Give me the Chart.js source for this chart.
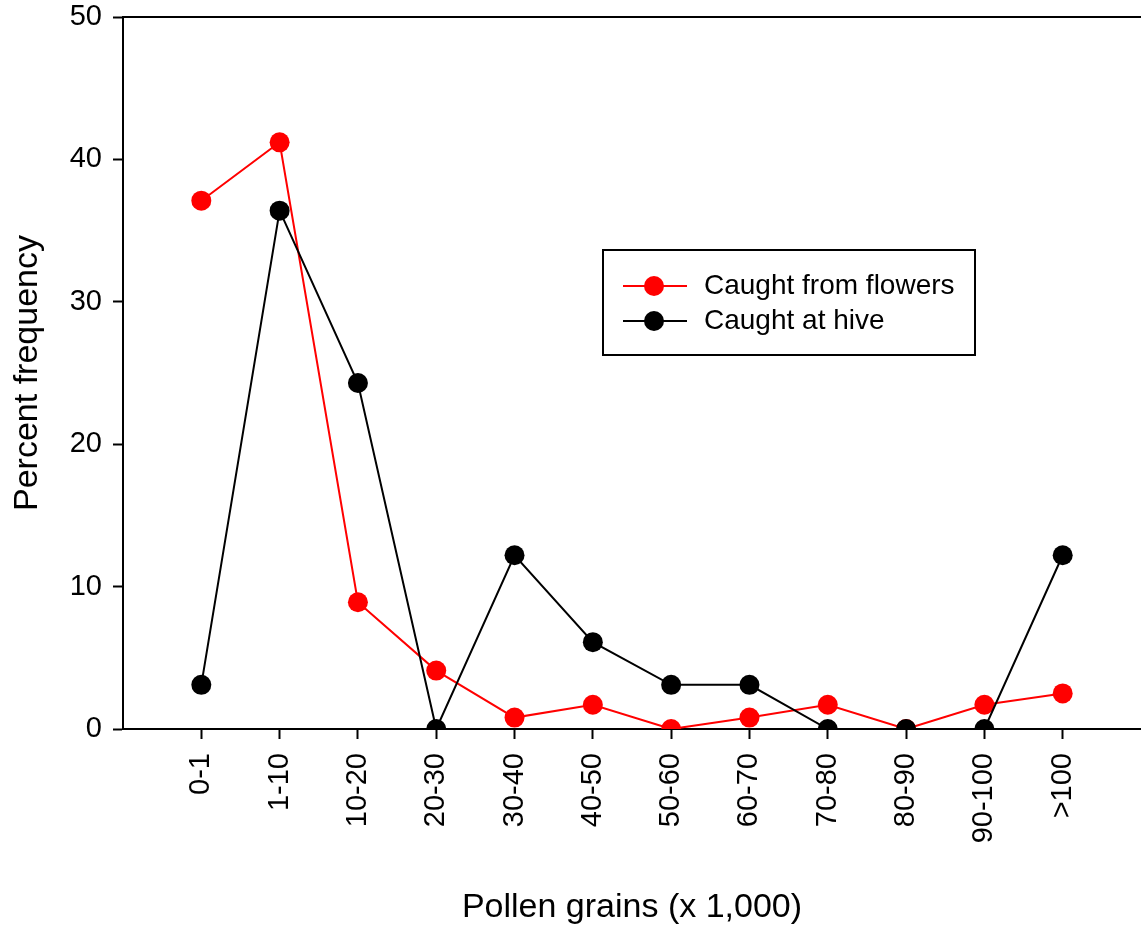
<!DOCTYPE html>
<html lang="en">
  <head>
    <meta charset="UTF-8" />
    <title>Pollen grains percent frequency</title>
    <script src="https://cdn.jsdelivr.net/npm/chart.js"></script>
    <style>
      html, body { margin: 0; padding: 0; background: #fff; overflow: hidden; }
    </style>
  </head>
  <body>
    <canvas id="myChart" width="1141" height="930"></canvas>
    <script>
      // categories and series values
      var categories = ["0-1", "1-10", "10-20", "20-30", "30-40", "40-50", "50-60", "60-70", "70-80", "80-90", "90-100", ">100"]
      var flowers = [37.1, 41.2, 8.9, 4.1, 0.8, 1.7, 0, 0.8, 1.7, 0, 1.7, 2.5]
      var hive = [3.1, 36.4, 24.3, 0, 12.2, 6.1, 3.1, 3.1, 0, 0, 0, 12.2]
      var yTicks = [0, 10, 20, 30, 40, 50]

      var FONT = "'Liberation Sans', Arial, sans-serif"

      function toPoints(arr) {
        return arr.map(function (v, i) { return { x: i + 1, y: v } })
      }

      // frame top line + legend box
      var extras = {
        id: "extras",
        afterDraw: function (chart) {
          var ctx = chart.ctx
          var a = chart.chartArea
          ctx.save()
          ctx.strokeStyle = "#000"
          ctx.lineWidth = 2
          ctx.beginPath()
          ctx.moveTo(a.left, a.top)
          ctx.lineTo(a.right, a.top)
          ctx.stroke()

          // legend
          ctx.lineWidth = 2
          ctx.strokeRect(603, 250, 372, 105)
          var items = [
            { label: "Caught from flowers", color: "#ff0000", y: 286 },
            { label: "Caught at hive", color: "#000000", y: 321 },
          ]
          items.forEach(function (it) {
            ctx.strokeStyle = it.color
            ctx.lineWidth = 2
            ctx.beginPath()
            ctx.moveTo(623, it.y)
            ctx.lineTo(687, it.y)
            ctx.stroke()
            ctx.fillStyle = it.color
            ctx.beginPath()
            ctx.arc(654, it.y, 10, 0, Math.PI * 2)
            ctx.fill()
            ctx.fillStyle = "#000"
            ctx.font = "28px " + FONT
            ctx.textAlign = "left"
            ctx.textBaseline = "middle"
            ctx.fillText(it.label, 704, it.y)
          })
          ctx.restore()
        },
      }

      var ctx = document.getElementById("myChart").getContext("2d")
      var myChart = new Chart(ctx, {
        type: "line",
        data: {
          datasets: [
            {
              label: "Caught at hive",
              data: toPoints(hive),
              borderColor: "#000000",
              backgroundColor: "#000000",
              borderWidth: 2,
              pointRadius: 10,
              pointBorderWidth: 0,
              tension: 0,
              order: 0,
            },
            {
              label: "Caught from flowers",
              data: toPoints(flowers),
              borderColor: "#ff0000",
              backgroundColor: "#ff0000",
              borderWidth: 2,
              pointRadius: 10,
              pointBorderWidth: 0,
              tension: 0,
              order: 1,
            },
          ],
        },
        options: {
          responsive: false,
          animation: false,
          layout: { autoPadding: false, padding: { top: 17, right: 0, left: 0, bottom: 0 } },
          plugins: {
            legend: { display: false },
            tooltip: { enabled: false },
          },
          scales: {
            x: {
              type: "linear",
              min: 0,
              max: categories.length + 1,
              afterBuildTicks: function (scale) {
                scale.ticks = categories.map(function (c, i) { return { value: i + 1 } })
              },
              afterFit: function (scale) {
                scale.height = 201
                scale.paddingLeft = 0
                scale.paddingRight = 0
              },
              grid: { drawOnChartArea: false, drawTicks: true, tickLength: 10, tickColor: "#000", tickWidth: 2 },
              border: { display: true, color: "#000", width: 2 },
              ticks: {
                autoSkip: false,
                minRotation: 90,
                maxRotation: 90,
                padding: 14,
                color: "#000",
                font: { family: FONT, size: 29 },
                callback: function (value) { return categories[value - 1] },
              },
              title: {
                display: true,
                text: "Pollen grains (x 1,000)",
                color: "#000",
                font: { family: FONT, size: 34 },
                padding: { top: 0, bottom: 2 },
              },
            },
            y: {
              min: 0,
              max: 50,
              afterBuildTicks: function (scale) {
                scale.ticks = yTicks.map(function (v) { return { value: v } })
              },
              afterFit: function (scale) {
                scale.width = 123
                scale.paddingTop = 0
                scale.paddingBottom = 0
              },
              grid: { drawOnChartArea: false, drawTicks: true, tickLength: 10, tickColor: "#000", tickWidth: 2 },
              border: { display: true, color: "#000", width: 2 },
              ticks: {
                padding: 11,
                color: "#000",
                font: { family: FONT, size: 29 },
              },
              title: {
                display: true,
                text: "Percent frequency",
                color: "#000",
                font: { family: FONT, size: 34 },
                padding: { top: 7, bottom: 0 },
              },
            },
          },
        },
        plugins: [extras],
      })
    </script>
  </body>
</html>
